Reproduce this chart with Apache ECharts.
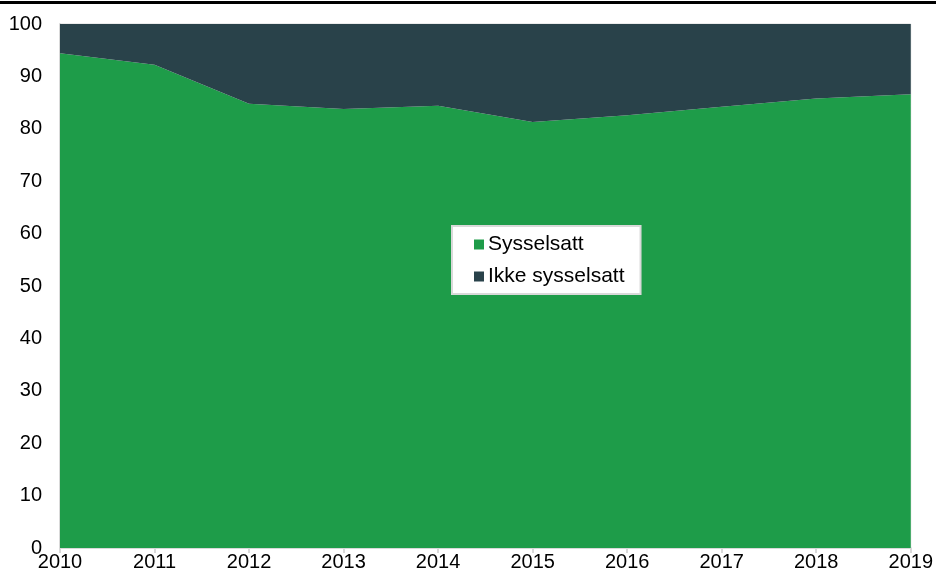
<!DOCTYPE html>
<html>
<head>
	<meta charset="utf-8">
	<title>Sysselsatt</title>
</head>
<body style="margin:0;background:#fff;">
	<div style="width:936px;height:574px;" id="chart1"></div>

	<script src="https://cdn.jsdelivr.net/npm/echarts@6/dist/echarts.min.js"></script>
	<script>
	var years = ['2010', '2011', '2012', '2013', '2014', '2015', '2016', '2017', '2018', '2019'];
	var sysselsatt = [94.4, 92.2, 84.8, 83.8, 84.4, 81.3, 82.6, 84.2, 85.8, 86.6];
	var ikkeSysselsatt = [5.6, 7.8, 15.2, 16.2, 15.6, 18.7, 17.4, 15.8, 14.2, 13.4];

	var myChart = echarts.init(document.getElementById('chart1'));

	var font = 'Liberation Sans, Arial, sans-serif';

	var option = {
		animation: false,
		graphic: [{
			type: 'rect',
			shape: { x: 0, y: 1, width: 936, height: 3 },
			style: { fill: '#000' }
		}],
		legend: {
			orient: 'vertical',
			left: 452,
			top: 226,
			padding: [8, 16, 7, 22],
			itemGap: 11,
			itemWidth: 10,
			itemHeight: 10,
			backgroundColor: '#fff',
			borderColor: '#d9d9d9',
			borderWidth: 2,
			textStyle: { fontFamily: font, fontSize: 21, color: '#000', padding: [0, 0, 0, -1] },
			data: [
				{ name: 'Sysselsatt', icon: 'rect' },
				{ name: 'Ikke sysselsatt', icon: 'rect' }
			]
		},
		grid: {
			left: 60,
			right: 25,
			top: 24,
			bottom: 26,
			show: true,
			borderColor: '#d9d9d9',
			borderWidth: 1
		},
		xAxis: {
			type: 'category',
			boundaryGap: false,
			data: years,
			axisLine: { lineStyle: { color: '#d9d9d9', width: 2 } },
			axisTick: { show: true, length: 5, lineStyle: { color: '#d9d9d9', width: 2 } },
			axisLabel: { fontFamily: font, fontSize: 20, color: '#000', margin: 4 },
			splitLine: { show: false }
		},
		yAxis: {
			type: 'value',
			min: 0,
			max: 100,
			interval: 10,
			axisLine: { show: true, lineStyle: { color: '#d9d9d9', width: 2 } },
			axisTick: { show: false },
			axisLabel: { fontFamily: font, fontSize: 20, color: '#000', margin: 18 },
			splitLine: { show: false }
		},
		series: [{
			name: 'Sysselsatt',
			type: 'line',
			stack: 'total',
			data: sysselsatt,
			symbol: 'none',
			lineStyle: { width: 0 },
			itemStyle: { color: '#1e9c49' },
			areaStyle: { color: '#1e9c49', opacity: 1 }
		}, {
			name: 'Ikke sysselsatt',
			type: 'line',
			stack: 'total',
			data: ikkeSysselsatt,
			symbol: 'none',
			lineStyle: { width: 0 },
			itemStyle: { color: '#29424a' },
			areaStyle: { color: '#29424a', opacity: 1 }
		}]
	};

	myChart.setOption(option);
	</script>
</body>
</html>
